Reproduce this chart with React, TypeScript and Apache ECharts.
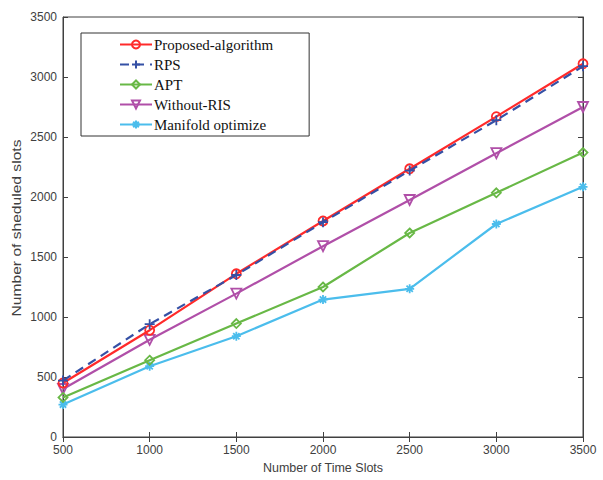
import React, { useEffect, useRef } from "react";
import * as echarts from "echarts";

const timeSlots = [500, 1000, 1500, 2000, 2500, 3000, 3500];
const proposed = [450, 890, 1360, 1800, 2235, 2670, 3110];
const rps = [470, 940, 1350, 1790, 2220, 2640, 3090];
const apt = [330, 640, 945, 1250, 1700, 2035, 2370];
const withoutRis = [400, 810, 1195, 1590, 1975, 2365, 2750];
const manifold = [270, 590, 840, 1145, 1235, 1775, 2085];

const seriesNames = ["Proposed-algorithm", "RPS", "APT", "Without-RIS", "Manifold optimize"];
const seriesColors = ["#ff2a2a", "#3550a5", "#68b846", "#b04fa8", "#4bbdec"];
const yTitle = "Number of sheduled slots";
const xTitle = "Number of Time Slots";

const PLUS = "path://M5,0L5,10M0,5L10,5";
const STAR = "path://M5,0L5,10M0,5L10,5M1.5,1.5L8.5,8.5M8.5,1.5L1.5,8.5";

export default function App() {
  const ref = useRef<HTMLDivElement>(null);
  useEffect(() => {
    if (!ref.current) return;
    const chart = echarts.init(ref.current, undefined, { renderer: "svg" });
    const data = [proposed, rps, apt, withoutRis, manifold];
    const symbols = ["circle", PLUS, "diamond", "triangle", STAR];
    const sizes = [9, 10, 9, 10, 9];
    const axisColor = "#404040";
    const fmt = (v: number) => String(v);
    const series = data.map((vals, i) => ({
      name: seriesNames[i],
      type: "line",
      data: timeSlots.map((x, j) => [x, vals[j]]),
      symbol: symbols[i],
      symbolSize: sizes[i],
      symbolRotate: i === 3 ? 180 : 0,
      showAllSymbol: true,
      z: 10 - i + (i === 1 ? 6 : 0),
      lineStyle: {
        color: seriesColors[i],
        width: 2.2,
        type: i === 1 ? [9, 6] : "solid",
      },
      itemStyle: {
        color: i === 1 || i === 4 ? seriesColors[i] : "rgba(255,255,255,0)",
        borderColor: seriesColors[i],
        borderWidth: 1.8,
      },
      emphasis: { disabled: true },
    }));
    chart.setOption({
      animation: false,
      backgroundColor: "#ffffff",
      grid: { left: 63, right: 20, top: 17, bottom: 43, show: true, borderColor: axisColor, borderWidth: 1 },
      legend: {
        orient: "vertical",
        left: 81,
        top: 33,
        padding: [4, 36, 4, 38],
        itemGap: 5,
        itemWidth: 32,
        itemHeight: 10,
        borderColor: "#333",
        borderWidth: 1,
        backgroundColor: "#fff",
        data: seriesNames,
        textStyle: { fontFamily: "Liberation Serif", fontSize: 15, color: "#111", padding: [0, 0, 0, -3] },
      },
      graphic: [
        {
          type: "text",
          x: 17,
          y: 228,
          rotation: Math.PI / 2,
          scaleX: 1.25,
          style: {
            text: yTitle,
            fontFamily: "Liberation Sans",
            fontSize: 12.5,
            fill: axisColor,
            textAlign: "center",
            textVerticalAlign: "middle",
          },
        },
      ],
      xAxis: [
        {
          type: "value",
          min: 500,
          max: 3500,
          interval: 500,
          name: xTitle,
          nameLocation: "middle",
          nameGap: 24,
          nameTextStyle: { fontFamily: "Liberation Sans", fontSize: 12.5, color: axisColor },
          axisLine: { show: true, lineStyle: { color: axisColor } },
          axisTick: { show: true, inside: true, length: 5, lineStyle: { color: axisColor } },
          axisLabel: { fontFamily: "Liberation Sans", fontSize: 12, color: axisColor, margin: 7, formatter: fmt },
          splitLine: { show: false },
        },
        {
          type: "value",
          position: "top",
          min: 500,
          max: 3500,
          interval: 500,
          axisLine: { show: true, lineStyle: { color: axisColor } },
          axisTick: { show: true, inside: true, length: 5, lineStyle: { color: axisColor } },
          axisLabel: { show: false },
          splitLine: { show: false },
        },
      ],
      yAxis: [
        {
          type: "value",
          min: 0,
          max: 3500,
          interval: 500,
          axisLine: { show: true, lineStyle: { color: axisColor } },
          axisTick: { show: true, inside: true, length: 5, lineStyle: { color: axisColor } },
          axisLabel: { fontFamily: "Liberation Sans", fontSize: 12, color: axisColor, margin: 6, formatter: fmt },
          splitLine: { show: false },
        },
        {
          type: "value",
          position: "right",
          min: 0,
          max: 3500,
          interval: 500,
          axisLine: { show: true, lineStyle: { color: axisColor } },
          axisTick: { show: true, inside: true, length: 5, lineStyle: { color: axisColor } },
          axisLabel: { show: false },
          splitLine: { show: false },
        },
      ],
      series,
    });
    return () => chart.dispose();
  }, []);
  return <div ref={ref} style={{ width: 603, height: 480, position: "absolute", left: 0, top: 0 }} />;
}
